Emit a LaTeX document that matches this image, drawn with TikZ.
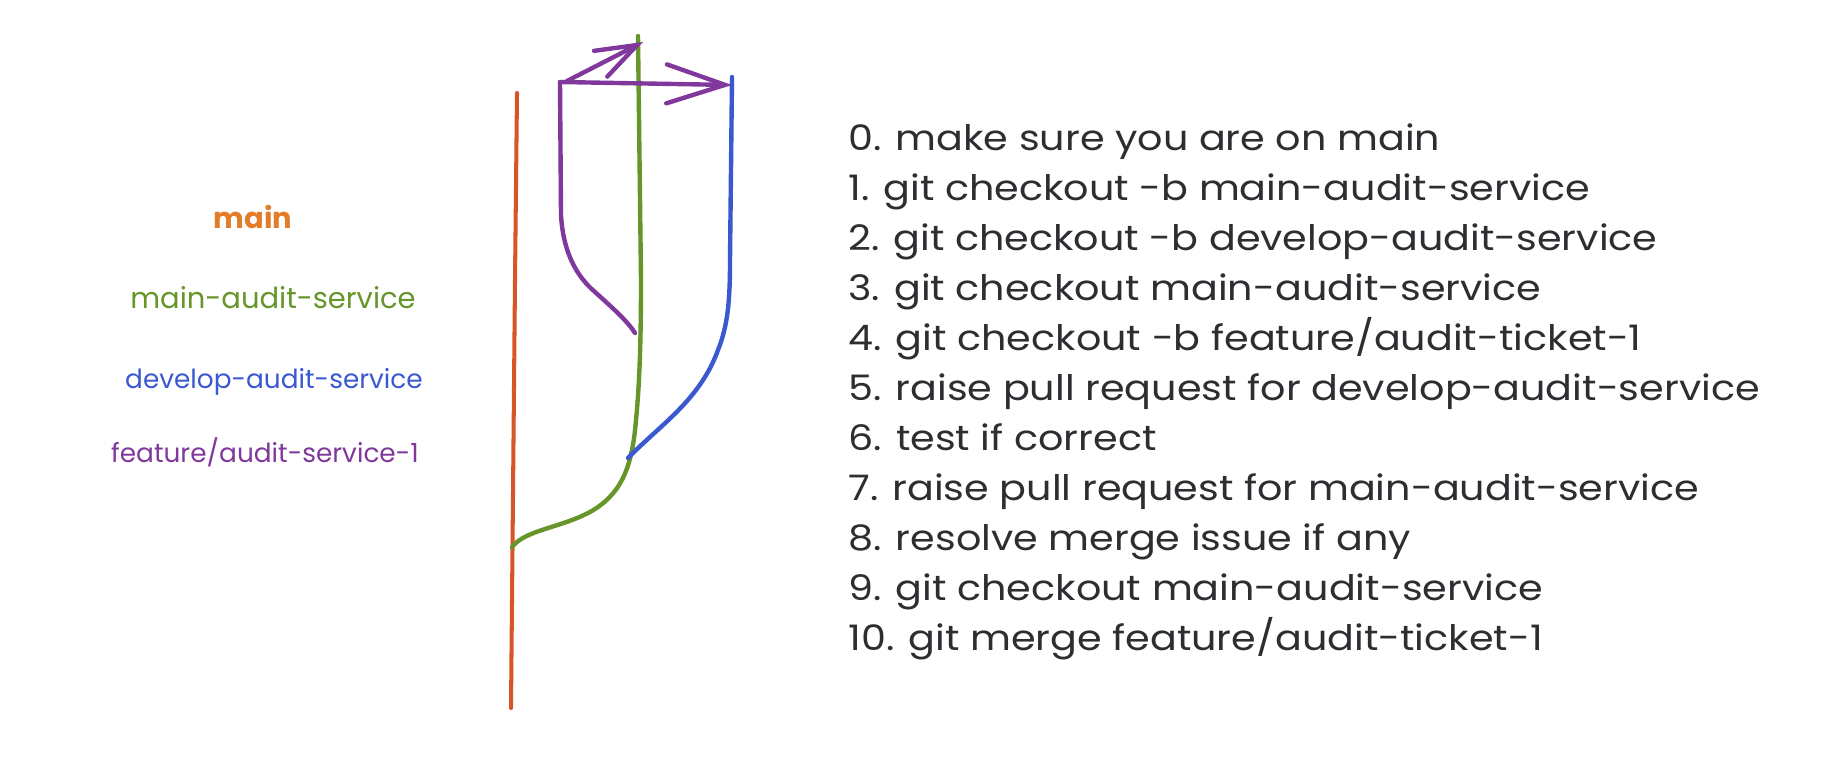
\documentclass[tikz,border=0pt]{standalone}
\usepackage{fontspec}
\setmainfont{Poppins}
\newfontfamily\handfont{Poppins}[FakeStretch=1.13]
\usetikzlibrary{arrows.meta}

\definecolor{mainline}{RGB}{214,86,40}
\definecolor{mainlabel}{RGB}{226,124,40}
\definecolor{auditgreen}{RGB}{102,150,42}
\definecolor{devblue}{RGB}{58,88,208}
\definecolor{featpurple}{RGB}{128,56,156}
\definecolor{ink}{RGB}{44,46,50}

\tikzset{
  branch/.style={line width=2.5pt, line cap=round, line join=round},
  branchlabel/.style={font=\fontsize{15}{18}\selectfont, inner sep=0pt},
  steptext/.style={font=\handfont\fontsize{20}{24}\selectfont, color=ink, anchor=base west, inner sep=0pt}
}

\begin{document}
\begin{tikzpicture}[x=0.02cm, y=-0.02cm]
\useasboundingbox (0,0) rectangle (1842,782);

% Branch points
\coordinate (mtop) at (517,93);
\coordinate (mbot) at (511,708);
\coordinate (fork) at (512,547);
\coordinate (atop) at (638,36);
\coordinate (djoin) at (628,458);
\coordinate (dtop) at (732,77);
\coordinate (ftop) at (560,82);
\coordinate (fend) at (635,333);

% main
\draw[branch, mainline, line width=2.3pt] (mtop) -- (515,280) -- (mbot);
% main-audit-service
\draw[branch, auditgreen] (fork) .. controls (525,530) and (560,528) .. (590,512)
  .. controls (620,495) and (632,470) .. (636,420)
  .. controls (640,380) and (641,330) .. (641,280) -- (atop);
% develop-audit-service
\draw[branch, devblue] (djoin) .. controls (660,425) and (700,400) .. (718,350)
  .. controls (728,325) and (730,300) .. (730,260) -- (dtop);
% feature/audit-service-1
\draw[branch, featpurple] (fend) .. controls (628,322) and (615,310) .. (595,292)
  .. controls (575,275) and (563,250) .. (561,215) -- (ftop);

% Merge arrows
\draw[branch, featpurple, -{Straight Barb[length=0.82cm, width=0.58cm, line cap=round]}] (567,81) -- (643,42);
\draw[branch, featpurple, -{Straight Barb[length=1.17cm, width=0.78cm, line cap=round]}] (ftop) -- (dtop |- 0,85);

% Branch labels
\node[branchlabel, mainlabel, font=\bfseries\fontsize{16.5}{19}\selectfont] (lmain) at (253,217) {main};
\node[branchlabel, auditgreen, font=\fontsize{16.5}{19}\selectfont] (laudit) at (273,298) {main-audit-service};
\node[branchlabel, devblue] (ldev) at (274,382) {develop-audit-service};
\node[branchlabel, featpurple] (lfeat) at (265,452) {feature/audit-service-1};

% Steps
\pgfmathsetmacro{\gap}{50};
\node[steptext] (s0) at (848,150) {0. make sure you are on main};
\node[steptext] (s1) at (848,150+\gap) {1. git checkout -b main-audit-service};
\node[steptext] (s2) at (848,150+2*\gap) {2. git checkout -b develop-audit-service};
\node[steptext] (s3) at (848,150+3*\gap) {3. git checkout main-audit-service};
\node[steptext] (s4) at (848,150+4*\gap) {4. git checkout -b feature/audit-ticket-1};
\node[steptext] (s5) at (848,150+5*\gap) {5. raise pull request for develop-audit-service};
\node[steptext] (s6) at (848,150+6*\gap) {6. test if correct};
\node[steptext] (s7) at (848,150+7*\gap) {7. raise pull request for main-audit-service};
\node[steptext] (s8) at (848,150+8*\gap) {8. resolve merge issue if any};
\node[steptext] (s9) at (848,150+9*\gap) {9. git checkout main-audit-service};
\node[steptext] (s10) at (848,150+10*\gap) {10. git merge feature/audit-ticket-1};
\end{tikzpicture}
\end{document}
